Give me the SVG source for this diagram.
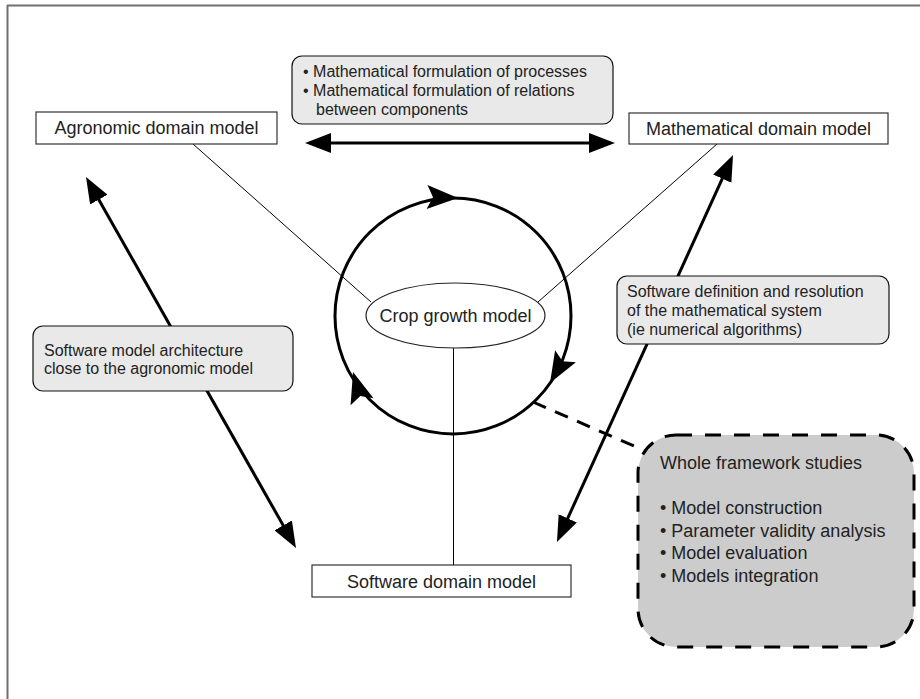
<svg xmlns="http://www.w3.org/2000/svg" width="920" height="699" viewBox="0 0 920 699">
<style>
text{font-family:"Liberation Sans",Arial,sans-serif;fill:#222}
.lbl{font-size:18px}
.note{font-size:16px}
.node{fill:#fff;stroke:#333;stroke-width:1.2}
.gbox{fill:#e9e9e9;stroke:#111;stroke-width:1.2}
.thin{stroke:#000;stroke-width:1;fill:none}
.thick{stroke:#000;stroke-width:3;fill:none}
.head{fill:#000}
</style>
<defs>
<marker id="ah" viewBox="0 0 26 20" refX="10" refY="10" markerWidth="26" markerHeight="20" markerUnits="userSpaceOnUse" orient="auto-start-reverse">
<path d="M0,0 L26,10 L0,20 z" fill="#000"/>
</marker>
<path id="ch" d="M0,0 L-31,-12 L-25,0 L-31,12 z"/>
</defs>
<rect width="920" height="699" fill="#fff"/>
<g id="frame" stroke="#707070" stroke-width="2" fill="none">
<line x1="7" y1="5.5" x2="920" y2="5.5"/>
<line x1="7.5" y1="5" x2="7.5" y2="699"/>
</g>
<g id="connectors">
<line class="thin" x1="193" y1="144" x2="371" y2="302"/>
<line class="thin" x1="717" y1="144" x2="538" y2="302"/>
<line class="thin" x1="453.5" y1="348" x2="453.5" y2="565"/>
<line class="thick" x1="321" y1="143" x2="599" y2="143" marker-start="url(#ah)" marker-end="url(#ah)"/>
<line class="thick" x1="93.9" y1="190.9" x2="288.1" y2="534.1" marker-start="url(#ah)" marker-end="url(#ah)"/>
<line class="thick" x1="726.4" y1="169.6" x2="563.6" y2="527.4" marker-start="url(#ah)" marker-end="url(#ah)"/>
<line class="thick" x1="533" y1="402" x2="643" y2="450" stroke-dasharray="14 10"/>
</g>
<g id="cycle">
<circle class="thick" cx="453" cy="316" r="118"/>
<use href="#ch" class="head" transform="translate(458,198) rotate(2)"/>
<use href="#ch" class="head" transform="translate(550,383) rotate(120)"/>
<use href="#ch" class="head" transform="translate(353,372) rotate(-107)"/>
</g>
<g id="note-math">
<rect class="gbox" x="292" y="56" width="321" height="68" rx="10"/>
<text class="note" x="303" y="77">• Mathematical formulation of processes</text>
<text class="note" x="303" y="96">• Mathematical formulation of relations</text>
<text class="note" x="316" y="115">between components</text>
</g>
<g id="agronomic">
<rect class="node" x="36" y="112" width="241" height="32"/>
<text class="lbl" x="156.5" y="134.3" text-anchor="middle">Agronomic domain model</text>
</g>
<g id="mathematical">
<rect class="node" x="629" y="113" width="259" height="31"/>
<text class="lbl" x="758.5" y="134.5" text-anchor="middle">Mathematical domain model</text>
</g>
<g id="crop">
<ellipse cx="455.5" cy="315.5" rx="89.5" ry="32.5" fill="#fff" stroke="#222" stroke-width="1.2"/>
<text class="lbl" x="455.5" y="322" text-anchor="middle">Crop growth model</text>
</g>
<g id="note-arch">
<rect class="gbox" x="33" y="326" width="260" height="65" rx="10"/>
<text class="note" x="44" y="356">Software model architecture</text>
<text class="note" x="44" y="374">close to the agronomic model</text>
</g>
<g id="note-soft">
<rect class="gbox" x="617" y="276" width="272" height="68" rx="10"/>
<text class="note" x="627" y="297">Software definition and resolution</text>
<text class="note" x="627" y="316">of the mathematical system</text>
<text class="note" x="627" y="335">(ie numerical algorithms)</text>
</g>
<g id="software">
<rect class="node" x="312" y="565" width="259" height="32"/>
<text class="lbl" x="441.5" y="587.5" text-anchor="middle">Software domain model</text>
</g>
<g id="framework">
<rect x="638" y="435" width="276" height="212" rx="38" fill="#cccccc" stroke="#000" stroke-width="3" stroke-dasharray="16 13"/>
<text class="lbl" x="660" y="469">Whole framework studies</text>
<text class="lbl" x="660" y="514">• Model construction</text>
<text class="lbl" x="660" y="537">• Parameter validity analysis</text>
<text class="lbl" x="660" y="559">• Model evaluation</text>
<text class="lbl" x="660" y="582">• Models integration</text>
</g>
</svg>
